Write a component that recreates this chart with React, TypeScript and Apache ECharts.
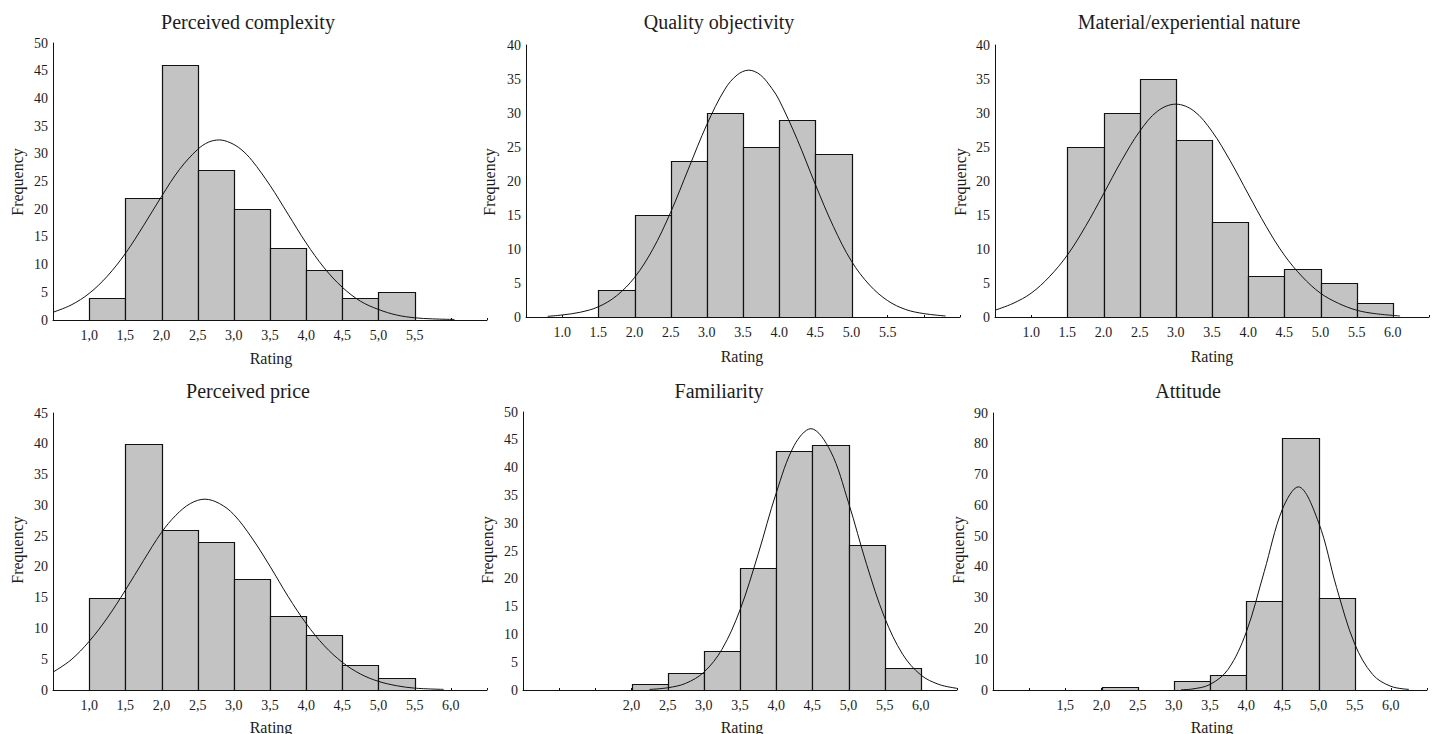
import React, { useEffect, useRef } from "react";
import * as echarts from "echarts";

// ---------- DATA ----------
const titles = [
  "Perceived complexity",
  "Quality objectivity",
  "Material/experiential nature",
  "Perceived price",
  "Familiarity",
  "Attitude",
];

// histogram counts, bins of width 0.5 starting at firstBin
const complexityFirstBin = 1.0;
const complexityCounts = [4, 22, 46, 27, 20, 13, 9, 4, 5];

const objectivityFirstBin = 1.5;
const objectivityCounts = [4, 15, 23, 30, 25, 29, 24];

const materialFirstBin = 1.5;
const materialCounts = [25, 30, 35, 26, 14, 6, 7, 5, 2];

const priceFirstBin = 1.0;
const priceCounts = [15, 40, 26, 24, 18, 12, 9, 4, 2];

const familiarityFirstBin = 2.0;
const familiarityCounts = [1, 3, 7, 22, 43, 44, 26, 4];

const attitudeFirstBin = 2.0;
const attitudeCounts = [1, 0, 3, 5, 29, 82, 30];

// fitted normal curves
const complexityCurve = [
  [0.5, 1.4], [0.75, 2.7], [1.0, 4.8], [1.25, 7.9], [1.5, 12.0], [1.75, 17.0],
  [2.0, 22.3], [2.25, 27.2], [2.5, 30.8], [2.65, 32.1], [2.8, 32.5], [2.95, 32.0],
  [3.1, 30.8], [3.25, 28.8], [3.5, 24.3], [3.75, 19.1], [4.0, 13.9], [4.25, 9.4],
  [4.5, 5.9], [4.75, 3.4], [5.0, 1.9], [5.25, 0.9], [5.5, 0.4], [5.75, 0.2], [6.05, 0.1],
];
const objectivityCurve = [
  [0.8, 0.1], [1.0, 0.3], [1.25, 0.7], [1.5, 1.5], [1.75, 3.1], [2.0, 5.8],
  [2.25, 9.9], [2.5, 15.4], [2.75, 21.9], [3.0, 28.3], [3.25, 33.5], [3.42, 35.6],
  [3.58, 36.3], [3.74, 35.6], [3.9, 33.6], [4.0, 31.9], [4.25, 26.1], [4.5, 19.5],
  [4.75, 13.3], [5.0, 8.2], [5.25, 4.7], [5.5, 2.4], [5.75, 1.1], [6.0, 0.5], [6.3, 0.15],
];
const materialCurve = [
  [0.5, 1.0], [0.75, 2.0], [1.0, 3.5], [1.25, 5.9], [1.5, 9.1], [1.75, 13.3],
  [2.0, 18.1], [2.25, 23.0], [2.5, 27.3], [2.75, 30.3], [3.0, 31.3], [3.25, 30.3],
  [3.5, 27.3], [3.75, 23.0], [4.0, 18.1], [4.25, 13.3], [4.5, 9.1], [4.75, 5.9],
  [5.0, 3.5], [5.25, 2.0], [5.5, 1.0], [5.75, 0.5], [6.1, 0.15],
];
const priceCurve = [
  [0.5, 2.9], [0.75, 4.9], [1.0, 7.9], [1.25, 11.7], [1.5, 16.2], [1.75, 21.0],
  [2.0, 25.6], [2.2, 28.4], [2.4, 30.3], [2.6, 31.0], [2.8, 30.3], [3.0, 28.5],
  [3.25, 24.7], [3.5, 20.1], [3.75, 15.2], [4.0, 10.8], [4.25, 7.2], [4.5, 4.5],
  [4.75, 2.6], [5.0, 1.4], [5.25, 0.7], [5.5, 0.3], [5.9, 0.1],
];
const familiarityCurve = [
  [2.25, 0.1], [2.5, 0.4], [2.75, 1.2], [3.0, 3.2], [3.25, 7.3], [3.5, 14.4],
  [3.75, 24.4], [4.0, 35.4], [4.25, 44.0], [4.48, 47.0], [4.75, 43.0], [5.0, 33.7],
  [5.25, 22.6], [5.5, 13.0], [5.75, 6.4], [6.0, 2.7], [6.25, 1.0], [6.5, 0.3],
];
const attitudeCurve = [
  [3.1, 0.1], [3.25, 0.3], [3.5, 1.8], [3.75, 6.7], [4.0, 18.7], [4.25, 38.5],
  [4.5, 58.7], [4.72, 66.0], [5.0, 54.5], [5.25, 33.3], [5.5, 15.0], [5.75, 5.0],
  [6.0, 1.2], [6.25, 0.2],
];

// y axis maxima and intervals
const yMaxes = [50, 40, 40, 45, 50, 90];
const yIntervals = [5, 5, 5, 5, 5, 10];
// range of labelled x ticks
const xLabelMins = [1.0, 1.0, 1.0, 1.0, 2.0, 1.5];
const xLabelMaxes = [5.5, 5.5, 6.0, 6.0, 6.0, 6.0];
const decimalSeps = [",", ".", ".", ",", ",", ","];

const xAxisName = "Rating";
const yAxisName = "Frequency";

// ---------- LAYOUT ----------
const grids = [
  { left: 53, top: 43, width: 434, height: 277 },
  { left: 526, top: 45, width: 434, height: 272 },
  { left: 995, top: 45, width: 434, height: 272 },
  { left: 53, top: 413, width: 434, height: 277 },
  { left: 523, top: 412, width: 434, height: 278 },
  { left: 993, top: 413, width: 434, height: 277 },
];
const titlePos = [[248, 22], [719, 22], [1189, 22], [248, 391], [719, 391], [1188, 391]];
const xNamePos = [[271, 358], [742, 356], [1212, 356], [271, 727], [742, 727], [1212, 727]];
const yNamePos = [[17, 182], [489, 182], [960, 182], [17, 550], [487, 550], [958, 550]];

const FONT = '"Liberation Serif", "Times New Roman", serif';
const TEXT = "#1c1c1c";
const BAR_FILL = "#c3c3c3";

const firstBins = [
  complexityFirstBin, objectivityFirstBin, materialFirstBin,
  priceFirstBin, familiarityFirstBin, attitudeFirstBin,
];
const countsList = [
  complexityCounts, objectivityCounts, materialCounts,
  priceCounts, familiarityCounts, attitudeCounts,
];
const curves = [
  complexityCurve, objectivityCurve, materialCurve,
  priceCurve, familiarityCurve, attitudeCurve,
];

function buildOption() {
  const grid: any[] = [];
  const xAxis: any[] = [];
  const yAxis: any[] = [];
  const series: any[] = [];
  const graphic: any[] = [];

  for (let i = 0; i < 6; i++) {
    grid.push({ ...grids[i], containLabel: false });
    const lo = xLabelMins[i];
    const hi = xLabelMaxes[i];
    const sep = decimalSeps[i];
    xAxis.push({
      type: "value",
      gridIndex: i,
      min: 0.5,
      max: 6.5,
      interval: 0.5,
      axisLine: { show: true, lineStyle: { color: "#111", width: 1 } },
      axisTick: { show: true, inside: true, length: 2, lineStyle: { color: "#111" } },
      splitLine: { show: false },
      axisLabel: {
        show: true,
        margin: 8,
        color: TEXT,
        fontFamily: FONT,
        fontSize: 14,
        showMinLabel: true,
        showMaxLabel: true,
        formatter: (v: number) => {
          if (v < lo - 1e-6 || v > hi + 1e-6) return "";
          return v.toFixed(1).replace(".", sep);
        },
      },
    });
    yAxis.push({
      type: "value",
      gridIndex: i,
      min: 0,
      max: yMaxes[i],
      interval: yIntervals[i],
      axisLine: { show: true, lineStyle: { color: "#111", width: 1 } },
      axisTick: { show: false },
      splitLine: { show: false },
      axisLabel: {
        show: true,
        margin: 5,
        color: TEXT,
        fontFamily: FONT,
        fontSize: 14,
      },
    });

    const start = firstBins[i];
    const data = countsList[i]
      .map((c, k) => [start + 0.5 * k, start + 0.5 * (k + 1), c])
      .filter((d) => d[2] > 0);

    series.push({
      type: "custom",
      xAxisIndex: i,
      yAxisIndex: i,
      z: 2,
      data,
      encode: { x: [0, 1], y: 2 },
      renderItem: (params: any, api: any) => {
        const x0 = api.value(0);
        const x1 = api.value(1);
        const y = api.value(2);
        const p0 = api.coord([x0, y]);
        const p1 = api.coord([x1, 0]);
        return {
          type: "rect",
          shape: {
            x: Math.round(p0[0]) + 0.5,
            y: Math.round(p0[1]) + 0.5,
            width: Math.round(p1[0]) - Math.round(p0[0]),
            height: Math.round(p1[1]) - Math.round(p0[1]),
          },
          style: { fill: BAR_FILL, stroke: "#111", lineWidth: 1.2 },
        };
      },
    });

    series.push({
      type: "line",
      xAxisIndex: i,
      yAxisIndex: i,
      z: 3,
      data: curves[i],
      smooth: 0.35,
      showSymbol: false,
      symbol: "none",
      lineStyle: { color: "#111", width: 1 },
      silent: true,
    });

    graphic.push({
      type: "text",
      x: titlePos[i][0],
      y: titlePos[i][1],
      style: {
        text: titles[i],
        fill: TEXT,
        font: `20px ${FONT}`,
        textAlign: "center",
        textVerticalAlign: "middle",
      },
    });
    graphic.push({
      type: "text",
      x: xNamePos[i][0],
      y: xNamePos[i][1],
      style: {
        text: xAxisName,
        fill: TEXT,
        font: `16px ${FONT}`,
        textAlign: "center",
        textVerticalAlign: "middle",
      },
    });
    graphic.push({
      type: "text",
      x: yNamePos[i][0],
      y: yNamePos[i][1],
      rotation: Math.PI / 2,
      style: {
        text: yAxisName,
        fill: TEXT,
        font: `16px ${FONT}`,
        textAlign: "center",
        textVerticalAlign: "middle",
      },
    });
  }

  return {
    animation: false,
    backgroundColor: "#ffffff",
    grid,
    xAxis,
    yAxis,
    series,
    graphic,
  };
}

export default function App() {
  const ref = useRef<HTMLDivElement>(null);
  useEffect(() => {
    if (!ref.current) return;
    const chart = echarts.init(ref.current, null, { renderer: "svg" });
    chart.setOption(buildOption() as any);
    return () => chart.dispose();
  }, []);
  return (
    <div
      ref={ref}
      style={{ position: "fixed", left: 0, top: 0, width: 1434, height: 734, background: "#fff" }}
    />
  );
}
